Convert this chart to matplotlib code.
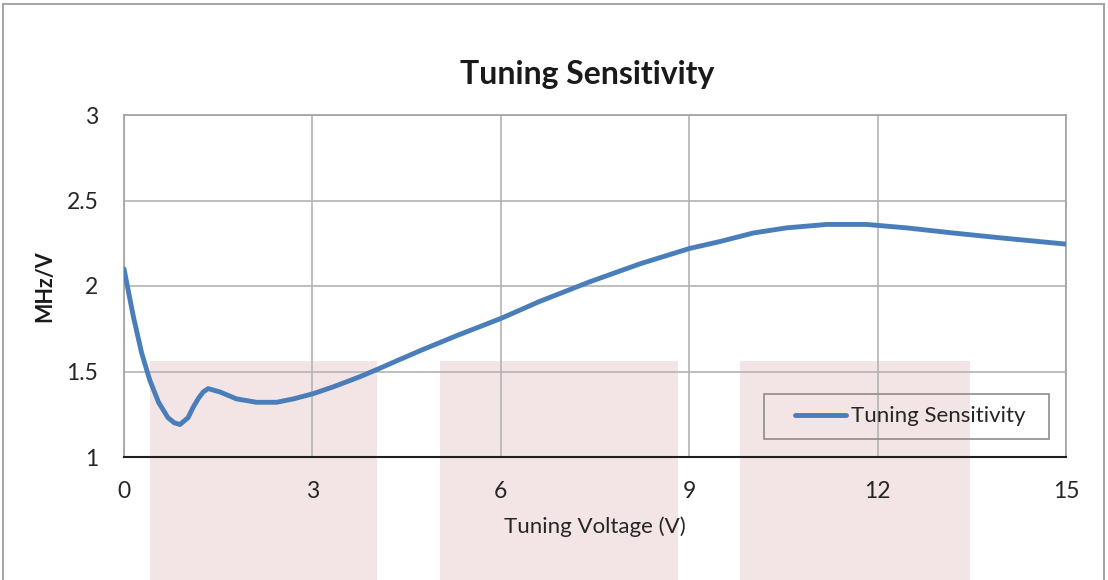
import matplotlib
matplotlib.use("Agg")
import matplotlib.pyplot as plt
from matplotlib.patches import Rectangle
from matplotlib.lines import Line2D

plt.rcParams['font.family'] = ['Lato', 'DejaVu Sans']

voltage = [0.0, 0.08, 0.15, 0.28, 0.41, 0.55, 0.70, 0.80, 0.89, 1.02, 1.10, 1.18, 1.26, 1.34, 1.53, 1.79,
           2.11, 2.43, 2.70, 3.01, 3.33, 3.76, 4.08, 4.39, 4.77, 5.30, 6.00, 6.62, 7.42,
           8.22, 9.01, 9.49, 10.02, 10.55, 11.19, 11.82, 12.46, 13.20, 14.00, 15.0]
sensitivity = [2.10, 1.95, 1.82, 1.61, 1.45, 1.32, 1.23, 1.20, 1.19, 1.23, 1.29, 1.34, 1.38, 1.40, 1.38, 1.34,
               1.32, 1.32, 1.34, 1.37, 1.41, 1.47, 1.52, 1.57, 1.63, 1.71, 1.81, 1.91, 2.025,
               2.13, 2.22, 2.26, 2.31, 2.34, 2.36, 2.36, 2.34, 2.31, 2.28, 2.245]
series_name = "Tuning Sensitivity"
x_ticks = [0, 3, 6, 9, 12, 15]
y_ticks = [1, 1.5, 2, 2.5, 3]
y_tick_labels = ['1', '1.5', '2', '2.5', '3']

W, H = 1108, 580
fig = plt.figure(figsize=(W / 100, H / 100), dpi=100)
fig.patch.set_facecolor('white')

# background pink blocks
for x0, w in [(150, 227), (440, 238), (740, 230)]:
    fig.patches.append(Rectangle((x0 / W, 0), w / W, 1 - 361 / H,
                                 transform=fig.transFigure, facecolor='#f3e5e5',
                                 edgecolor='none', zorder=0))

# outer frame
fc = '#a6a6a6'
fig.lines.append(Line2D([3 / W, 3 / W], [0, 1 - 4 / H], transform=fig.transFigure, color=fc, lw=1.5))
fig.lines.append(Line2D([3 / W, 1104 / W], [1 - 4 / H, 1 - 4 / H], transform=fig.transFigure, color=fc, lw=1.5))
fig.lines.append(Line2D([1104 / W, 1104 / W], [0, 1 - 4 / H], transform=fig.transFigure, color=fc, lw=1.5))

AX_L, AX_R, AX_T, AX_B = 124, 1066, 115, 457
ax = fig.add_axes([AX_L / W, 1 - AX_B / H, (AX_R - AX_L) / W, (AX_B - AX_T) / H])
ax.set_facecolor('none')
ax.set_zorder(1)

ax.plot(voltage, sensitivity, color='#4a7ebb', lw=3.5, label=series_name, zorder=3,
        solid_capstyle='round', solid_joinstyle='round')

ax.set_xlim(0, 15)
ax.set_ylim(1, 3)
ax.set_xticks(x_ticks)
ax.set_yticks(y_ticks)
ax.set_xticklabels([str(t) for t in x_ticks])
ax.set_yticklabels(y_tick_labels)
ax.grid(True, color='#b3b3b3', lw=1.2)
ax.set_axisbelow(True)
ax.tick_params(axis='both', length=0, labelsize=16.5, colors='#262626')
ax.tick_params(axis='x', pad=17)
ax.tick_params(axis='y', pad=18.5)

for s in ['top', 'right', 'left']:
    ax.spines[s].set_color('#a0a0a0')
    ax.spines[s].set_linewidth(1.2)
ax.spines['bottom'].set_color('#202020')
ax.spines['bottom'].set_linewidth(1.5)

ax.set_title('Tuning Sensitivity', fontsize=23, fontweight='bold', color='#1a1a1a', pad=22,
             x=(587 - AX_L) / (AX_R - AX_L))
ax.set_xlabel('Tuning Voltage (V)', fontsize=16, color='#262626', labelpad=11)
ax.set_ylabel('MHz/V', fontsize=15.5, fontweight='bold', color='#1a1a1a', labelpad=8)

# legend frame (box) in axes fraction
aw, ah = AX_R - AX_L, AX_B - AX_T
ax.add_patch(Rectangle(((764 - AX_L) / aw, (AX_B - 439) / ah), (1049 - 764) / aw, (439 - 394) / ah,
                       transform=ax.transAxes, facecolor='none', edgecolor='#8c8c8c', lw=1.2,
                       zorder=4, clip_on=False))
leg = ax.legend(loc='center left', bbox_to_anchor=((795 - AX_L) / aw, (AX_B - 416.5) / ah),
                borderaxespad=0, borderpad=0, fontsize=16, frameon=False,
                handlelength=2.3, handletextpad=0.2, labelcolor='#262626')

fig.savefig('out.png', dpi=100)
